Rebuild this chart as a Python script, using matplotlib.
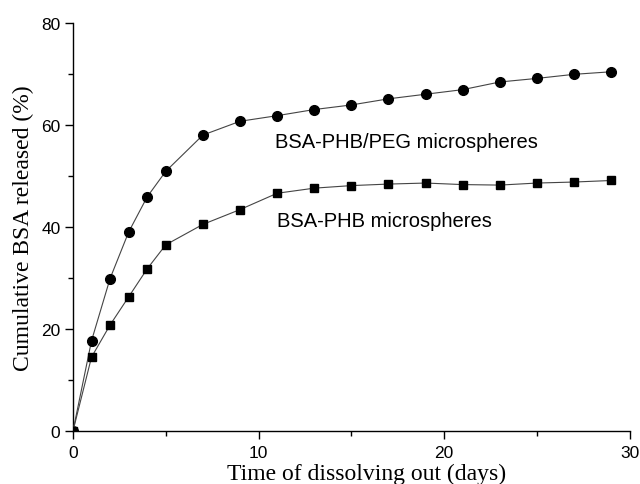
import numpy as np
import matplotlib.pyplot as plt
from matplotlib.ticker import MultipleLocator

days = [0, 1, 2, 3, 4, 5, 7, 9, 11, 13, 15, 17, 19, 21, 23, 25, 27, 29]
phb_peg = [0, 17.7, 29.9, 39.0, 45.9, 50.9, 58.0, 60.7, 61.8, 63.0, 63.9, 65.1, 66.0, 66.9, 68.4, 69.1, 69.9, 70.4]
phb = [0, 14.5, 20.8, 26.3, 31.8, 36.5, 40.5, 43.4, 46.6, 47.6, 48.1, 48.4, 48.6, 48.3, 48.2, 48.6, 48.8, 49.1]

fig = plt.figure(figsize=(6.4, 4.85), dpi=100)
ax = fig.add_axes([0.114, 0.109, 0.870, 0.842])

ax.plot(days, phb_peg, color='#444444', lw=0.8, marker='o', ms=7,
        mfc='black', mec='black', zorder=3)
ax.plot(days, phb, color='#444444', lw=0.8, marker='s', ms=5.8,
        mfc='black', mec='black', zorder=3)

ax.set_xlim(0, 30)
ax.set_ylim(0, 80)
ax.xaxis.set_major_locator(MultipleLocator(10))
ax.xaxis.set_minor_locator(MultipleLocator(5))
ax.yaxis.set_major_locator(MultipleLocator(20))
ax.yaxis.set_minor_locator(MultipleLocator(10))
for s in ['top', 'right']:
    ax.spines[s].set_visible(False)
for s in ['left', 'bottom']:
    ax.spines[s].set_linewidth(1.0)
ax.tick_params(which='major', length=6, width=1.0, labelsize=12.5, pad=3)
ax.tick_params(which='minor', length=3.5, width=1.0)
ax.tick_params(axis='x', which='major', pad=4)
for lab in ax.get_xticklabels() + ax.get_yticklabels():
    lab.set_fontfamily('Liberation Sans')

ax.set_xlabel('Time of dissolving out (days)', family='Liberation Serif', fontsize=17)
ax.set_ylabel('Cumulative BSA released (%)', family='Liberation Serif', fontsize=17, labelpad=5)
ax.xaxis.set_label_coords(0.528, -0.078)

ax.text(10.9, 56.7, 'BSA-PHB/PEG microspheres', family='Liberation Sans', fontsize=14.5, va='center')
ax.text(11.0, 41.2, 'BSA-PHB microspheres', family='Liberation Sans', fontsize=14.5, va='center')

fig.savefig('out.png', dpi=100)
